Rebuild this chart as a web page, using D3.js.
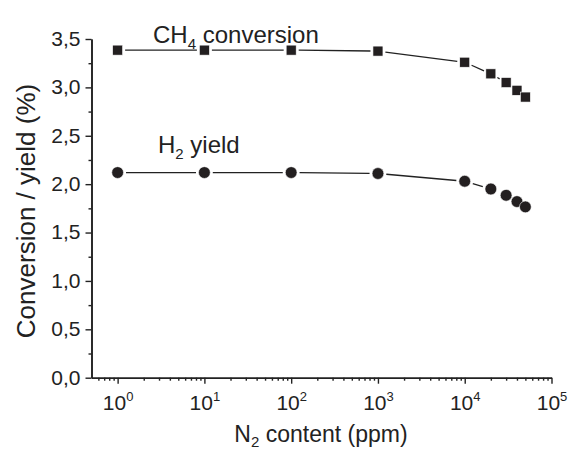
<!DOCTYPE html>
<html>
<head>
<meta charset="utf-8">
<script src="https://cdnjs.cloudflare.com/ajax/libs/d3/7.8.5/d3.min.js"></script>
<style>
    body { margin: 0; background: #fff; }
    svg { display: block; font-family: "Liberation Sans", Arial, sans-serif; }
</style>
</head>
<body>
<svg id="chartSvg" width="568" height="454"></svg>
<script>
// data
var n2_ppm = [1, 10, 100, 1000, 10000, 20000, 30000, 40000, 50000];
var ch4_conversion = [3.385, 3.385, 3.385, 3.375, 3.26, 3.14, 3.05, 2.97, 2.90];
var h2_yield = [2.12, 2.12, 2.12, 2.11, 2.03, 1.95, 1.885, 1.82, 1.765];
var y_ticks = [0, 0.5, 1.0, 1.5, 2.0, 2.5, 3.0, 3.5];
var y_minor = [0.25, 0.75, 1.25, 1.75, 2.25, 2.75, 3.25];
var x_decades = [0, 1, 2, 3, 4, 5];
var x_domain = [0.5, 1e5];

var chart = (function () {
    var svg = d3.select("#chartSvg");
    var left = 91.5, right = 551.5, top = 39, bottom = 377.7;

    function drawChart() {
        svg.selectAll("*").remove();
        let xScale = d3.scaleLog().domain(x_domain).range([left, right]);
        let yScale = d3.scaleLinear().domain([0, 3.5]).range([bottom, top]);

        // minor ticks on x: 2..9 of every decade plus the ones below 10^0
        let x_minor = [];
        for (let e = -1; e < 5; e++) {
            for (let m = 2; m <= 9; m++) {
                let v = m * Math.pow(10, e);
                if (v > x_domain[0] && v < x_domain[1]) x_minor.push(v);
            }
        }
        let x_major = x_decades.map(function (d) { return Math.pow(10, d); });

        let x_axis = d3.axisBottom(xScale).tickValues(x_major).tickFormat("").tickSize(6).tickSizeOuter(0);
        let x_axis_minor = d3.axisBottom(xScale).tickValues(x_minor).tickFormat("").tickSize(3).tickSizeOuter(0);
        let comma = d3.format(".1f");
        let y_axis = d3.axisLeft(yScale).tickValues(y_ticks).tickSize(6).tickSizeOuter(0)
            .tickFormat(function (d) { return comma(d).replace(".", ","); });
        let y_axis_minor = d3.axisLeft(yScale).tickValues(y_minor).tickFormat("").tickSize(3).tickSizeOuter(0);

        let gx = svg.append("g").attr("transform", "translate(0," + bottom + ")");
        gx.call(x_axis);
        gx.append("g").call(x_axis_minor);
        let gy = svg.append("g").attr("transform", "translate(" + left + ",0)");
        gy.call(y_axis);
        gy.append("g").call(y_axis_minor);

        svg.selectAll(".domain").attr("stroke", "#222").attr("stroke-width", 1.6);
        svg.selectAll(".tick line").attr("stroke", "#222").attr("stroke-width", 1.4);
        gy.selectAll(".tick text")
            .attr("font-size", 21).attr("fill", "#222").attr("font-family", null)
            .attr("x", -11).attr("dy", "0.3em");

        // x labels as 10 with superscript
        let xl = svg.append("g").selectAll("text").data(x_decades).enter()
            .append("text")
            .attr("x", function (d) { return xScale(Math.pow(10, d)) + 0.5; })
            .attr("y", 410)
            .attr("text-anchor", "middle")
            .attr("font-size", 21)
            .attr("fill", "#222");
        xl.append("tspan").text("10");
        xl.append("tspan").attr("font-size", 13).attr("dy", -9).text(function (d) { return d; });

        // axis titles
        let xt = svg.append("text")
            .attr("x", 321).attr("y", 441.5)
            .attr("text-anchor", "middle")
            .attr("font-size", 23).attr("fill", "#222");
        xt.append("tspan").text("N");
        xt.append("tspan").attr("font-size", 15).attr("dy", 5).text("2");
        xt.append("tspan").attr("dy", -5).text(" content (ppm)");

        svg.append("text")
            .attr("transform", "translate(35,211) rotate(-90)")
            .attr("text-anchor", "middle")
            .attr("font-size", 26).attr("fill", "#222")
            .text("Conversion / yield (%)");

        drawSeries(xScale, yScale, ch4_conversion, "square", 5);
        drawSeries(xScale, yScale, h2_yield, "circle", 5.9);

        // labels next to the curves
        let t1 = svg.append("text").attr("x", 153).attr("y", 43.3)
            .attr("font-size", 24).attr("fill", "#222");
        t1.append("tspan").text("CH");
        t1.append("tspan").attr("font-size", 15).attr("dy", 6).text("4");
        t1.append("tspan").attr("dy", -6).text(" conversion");

        let t2 = svg.append("text").attr("x", 158).attr("y", 153.3)
            .attr("font-size", 24).attr("fill", "#222");
        t2.append("tspan").text("H");
        t2.append("tspan").attr("font-size", 15).attr("dy", 6).text("2");
        t2.append("tspan").attr("dy", -6).text(" yield");
    }

    function drawSeries(xScale, yScale, values, shape, r) {
        let pts = values.map(function (v, i) { return [xScale(n2_ppm[i]), yScale(v)]; });
        // connecting segments stop short of the markers
        let gap = r + 2.5;
        let segs = [];
        for (let i = 0; i < pts.length - 1; i++) {
            let dx = pts[i + 1][0] - pts[i][0], dy = pts[i + 1][1] - pts[i][1];
            let len = Math.sqrt(dx * dx + dy * dy);
            if (len <= 2 * gap) continue;
            let ux = dx / len, uy = dy / len;
            segs.push([[pts[i][0] + ux * gap, pts[i][1] + uy * gap],
            [pts[i + 1][0] - ux * gap, pts[i + 1][1] - uy * gap]]);
        }
        let line = d3.line();
        svg.append("g").selectAll("path").data(segs).enter()
            .append("path")
            .attr("d", line)
            .attr("stroke", "#222")
            .attr("stroke-width", 1.3)
            .style("fill", "none");

        let g = svg.append("g");
        if (shape == "square") {
            g.selectAll("rect").data(pts).enter()
                .append("rect")
                .attr("x", function (d) { return d[0] - r; })
                .attr("y", function (d) { return d[1] - r; })
                .attr("width", 2 * r).attr("height", 2 * r)
                .style("fill", "#231f20")
                .attr("stroke", "#fff").attr("stroke-width", 0.6);
        } else {
            g.selectAll("circle").data(pts).enter()
                .append("circle")
                .attr("cx", function (d) { return d[0]; })
                .attr("cy", function (d) { return d[1]; })
                .attr("r", r)
                .style("fill", "#231f20")
                .attr("stroke", "#fff").attr("stroke-width", 0.6);
        }
    }

    return { drawChart };
})();

chart.drawChart();
</script>
</body>
</html>
